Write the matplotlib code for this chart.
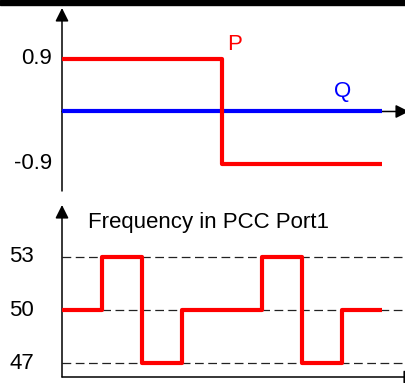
import numpy as np
import matplotlib; matplotlib.use('Agg'); import matplotlib.pyplot as plt
from matplotlib.patches import Rectangle

plt.rcParams['font.family'] = ['Liberation Sans', 'DejaVu Sans']

# top panel: active / reactive power
p_t = [0, 4, 8]; p_val = [0.9, -0.9, -0.9]
q_t = [0, 8]; q_val = [0, 0]
top_ticks = [0.9, -0.9]; top_labels = ['0.9', '-0.9']

# bottom panel: frequency steps
f_t = [0, 1, 2, 3, 5, 6, 7, 8]
f_val = [50, 53, 47, 50, 53, 47, 50, 50]
bot_ticks = [53, 50, 47]; bot_labels = ['53', '50', '47']

W, H = 405, 383
FS = 16
fig = plt.figure(figsize=(W/100, H/100), dpi=100)
fig.patches.append(Rectangle((0, 1-5/H), 1, 5/H, transform=fig.transFigure, color='black', zorder=10))

def arrow(ax, xy, xytext):
    ax.annotate('', xy=xy, xytext=xytext, arrowprops=dict(arrowstyle='-|>', lw=1.1, color='black',
                mutation_scale=20, shrinkA=0, shrinkB=0), annotation_clip=False)

# ---- top ----
axT = fig.add_axes([62/W, (H-191)/H, (W-62)/W, 183/H])
xmax = (W-62)/40
axT.set_xlim(0, xmax); axT.set_ylim(-1.363, 1.774); axT.axis('off')
arrow(axT, (0, 1.774), (0, -1.363))
arrow(axT, (xmax + 0.1, 0), (0, 0))
axT.plot(q_t, q_val, color='#0000ff', lw=3, solid_capstyle='butt', zorder=3)
axT.plot(p_t, p_val, color='#ff0000', lw=3, drawstyle='steps-post', solid_capstyle='butt', zorder=4)
for v, s in zip(top_ticks, top_labels):
    axT.text(-0.25, v, s, ha='right', va='center', fontsize=FS, clip_on=False)
axT.text(4.12, 1.14, 'P', color='#ff0000', fontsize=FS, ha='left', va='center')
axT.text(6.8, 0.34, 'Q', color='#0000ff', fontsize=FS, ha='left', va='center')

# ---- bottom ----
axB = fig.add_axes([62/W, (H-377)/H, (W-62)/W, 172/H])
axB.set_xlim(0, xmax); axB.set_ylim(46.21, 55.94); axB.axis('off')
for v in bot_ticks:
    axB.plot([0, xmax], [v, v], color='#222222', lw=0.9, dashes=(7, 3.6), zorder=1)
arrow(axB, (0, 55.94), (0, 46.21))
arrow(axB, (xmax + 0.3, 46.21), (0, 46.21))
axB.plot(f_t, f_val, color='#ff0000', lw=3, drawstyle='steps-post', solid_capstyle='butt', zorder=4)
for v, s in zip(bot_ticks, bot_labels):
    axB.text(-0.7, v, s, ha='right', va='center', fontsize=FS, clip_on=False)
axB.text(0.65, 54.95, 'Frequency in PCC Port1', fontsize=FS, ha='left', va='center')

fig.savefig('out.png', dpi=100)
